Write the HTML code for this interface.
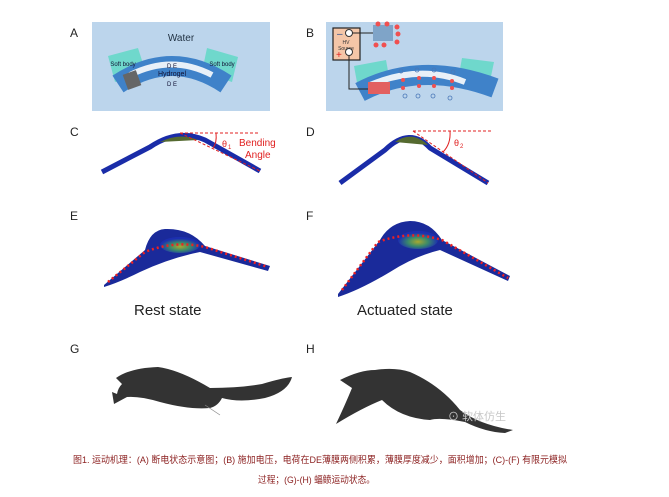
<!DOCTYPE html>
<html><head><meta charset="utf-8"><style>
html,body{margin:0;padding:0;background:#fff;}
svg{display:block;font-family:"Liberation Sans",Arial,sans-serif;}
.cap{font-family:"Liberation Sans","Noto Sans CJK SC",sans-serif;fill:#8b1f1f;font-size:9.5px;}
</style></head><body>
<svg width="669" height="497" viewBox="0 0 669 497" xmlns="http://www.w3.org/2000/svg">
<defs>
<radialGradient id="hg" cx="0.5" cy="0.6" r="0.5"><stop offset="0" stop-color="#a8a830"/><stop offset="0.5" stop-color="#3a8a6a"/><stop offset="1" stop-color="#1c2fb0"/></radialGradient>
</defs>
<g font-size="12" fill="#222">
<text x="70" y="37">A</text><text x="306" y="37">B</text>
<text x="70" y="136">C</text><text x="306" y="136">D</text>
<text x="70" y="220">E</text><text x="306" y="220">F</text>
<text x="70" y="353">G</text><text x="306" y="353">H</text>
</g>
<!-- Panel A -->
<rect x="92" y="22" width="178" height="89" fill="#bcd5ec"/>
<text x="181" y="41" font-size="10" fill="#234" text-anchor="middle">Water</text>
<polygon points="108,56 138,48 146,73 115,82" fill="#6fd8cc"/>
<polygon points="207,48 238,57 232,82 202,72" fill="#6fd8cc"/>
<path d="M118,84 Q172,48 226,84" fill="none" stroke="#3f82c9" stroke-width="20"/>
<path d="M130,75 Q172,54 212,75" fill="none" stroke="#e8f0f8" stroke-width="6"/>
<rect x="125" y="72" width="14" height="16" fill="#666" transform="rotate(-20 132 80)"/>
<g font-size="6" fill="#113" text-anchor="middle">
<text x="123" y="66">Soft body</text><text x="222" y="66">Soft body</text>
<text x="172" y="68">D E</text><text x="172" y="76" font-size="7">Hydrogel</text><text x="172" y="86">D E</text></g>
<!-- Panel B -->
<rect x="326" y="22" width="177" height="89" fill="#bcd5ec"/>
<polygon points="354,66 386,60 390,82 358,88" fill="#6fd8cc"/>
<polygon points="462,58 494,62 489,86 458,80" fill="#6fd8cc"/>
<path d="M360,92 Q420,60 495,88" fill="none" stroke="#3f82c9" stroke-width="20"/>
<path d="M370,85 Q420,64 465,82" fill="none" stroke="#e8f0f8" stroke-width="6"/>
<rect x="333" y="28" width="27" height="32" fill="#f4c6a8" stroke="#222" stroke-width="1.2"/>
<text x="346" y="44" font-size="5" text-anchor="middle" fill="#333">HV</text><text x="346" y="50" font-size="5" text-anchor="middle" fill="#333">Source</text>
<text x="337" y="37" font-size="10" fill="#2a4c8c">–</text><text x="336" y="58" font-size="10" fill="#e02020">+</text>
<circle cx="349" cy="33" r="3.5" fill="#fff" stroke="#333"/><circle cx="349" cy="52" r="3.5" fill="#fff" stroke="#333"/>
<polyline points="352,33 373,33" stroke="#222" fill="none"/>
<polyline points="349,56 349,89 370,89" stroke="#222" fill="none"/>
<rect x="373" y="25" width="20" height="16" fill="#7fa4c8"/>
<g fill="#f05050"><circle cx="378" cy="24" r="2.5"/><circle cx="387" cy="24" r="2.5"/><circle cx="397" cy="27" r="2.5"/><circle cx="398" cy="34" r="2.5"/><circle cx="397" cy="42" r="2.5"/><circle cx="384" cy="45" r="2.5"/><circle cx="376" cy="45" r="2.5"/>
<rect x="368" y="82" width="22" height="12" fill="#e26060"/>
<circle cx="403" cy="80" r="2"/><circle cx="419" cy="78" r="2"/><circle cx="434" cy="78" r="2"/><circle cx="452" cy="81" r="2"/><circle cx="403" cy="88" r="2"/><circle cx="419" cy="86" r="2"/><circle cx="434" cy="86" r="2"/><circle cx="452" cy="88" r="2"/></g>
<g fill="none" stroke="#4a78b8" stroke-width="0.8"><circle cx="401" cy="71" r="2"/><circle cx="417" cy="70" r="2"/><circle cx="434" cy="70" r="2"/><circle cx="453" cy="72" r="2"/><circle cx="405" cy="96" r="2"/><circle cx="418" cy="96" r="2"/><circle cx="433" cy="96" r="2"/><circle cx="450" cy="98" r="2"/></g>
<!-- C -->
<path d="M102,172 L150,147 Q178,128 205,140 L260,171" fill="none" stroke="#1a2ca8" stroke-width="5" stroke-linejoin="round"/>
<path d="M160,142 Q180,132 198,140 Z" fill="#556a30"/>
<line x1="180" y1="133" x2="260" y2="133" stroke="#e02020" stroke-dasharray="3,2"/>
<line x1="180" y1="133" x2="260" y2="171" stroke="#e02020" stroke-dasharray="3,2"/>
<path d="M216,133 Q217,143 213,148" fill="none" stroke="#e02020"/>
<text x="222" y="147" font-size="9" fill="#e02020">θ</text><text x="228" y="149" font-size="6" fill="#e02020">1</text>
<text x="239" y="146" font-size="10" fill="#e02020">Bending</text><text x="245" y="158" font-size="10" fill="#e02020">Angle</text>
<!-- D -->
<path d="M340,183 L385,150 Q410,126 430,148 L488,183" fill="none" stroke="#1a2ca8" stroke-width="5" stroke-linejoin="round"/>
<path d="M395,142 Q412,130 428,145 Z" fill="#556a30"/>
<line x1="413" y1="131" x2="492" y2="131" stroke="#e02020" stroke-dasharray="3,2"/>
<line x1="413" y1="131" x2="488" y2="183" stroke="#e02020" stroke-dasharray="3,2"/>
<path d="M450,131 Q451,144 443,152" fill="none" stroke="#e02020"/>
<text x="454" y="146" font-size="9" fill="#e02020">θ</text><text x="460" y="148" font-size="6" fill="#e02020">2</text>
<!-- E -->
<path d="M104,285 L145,250 Q150,230 165,229 Q190,228 205,246 L270,266 L268,271 L200,252 Q170,258 140,272 Q120,282 104,287 Z" fill="#1a2a9a"/>
<ellipse cx="180" cy="245" rx="20" ry="8" fill="url(#hg)"/>
<path d="M108,282 L145,252 Q175,240 205,247 L268,267" fill="none" stroke="#f02020" stroke-width="2.5" stroke-dasharray="2,3"/>
<!-- F -->
<path d="M338,294 L380,240 Q390,222 410,221 Q430,221 442,240 L510,276 L508,281 L440,250 Q415,256 390,272 Q360,290 338,297 Z" fill="#1a2a9a"/>
<ellipse cx="418" cy="240" rx="20" ry="9" fill="url(#hg)"/>
<path d="M342,290 L378,242 Q410,230 442,240 L508,278" fill="none" stroke="#f02020" stroke-width="2.5" stroke-dasharray="2,3"/>
<text x="134" y="315" font-size="15" fill="#222">Rest state</text>
<text x="357" y="315" font-size="15" fill="#222">Actuated state</text>
<!-- G -->
<path d="M112,392 L117,394 Q118,388 122,384 L116,378 Q130,368 158,367 Q180,370 210,388 Q240,388 262,384 Q282,378 292,377 Q288,392 265,398 Q240,403 222,398 Q218,406 210,408 Q190,410 160,402 Q140,396 127,397 L114,404 Z" fill="#333"/>
<line x1="205" y1="405" x2="220" y2="415" stroke="#888" stroke-width="0.7"/>
<!-- H -->
<path d="M336,424 Q345,405 352,388 L340,380 Q360,370 375,370 Q395,367 410,372 Q440,385 460,410 Q480,425 513,430 L505,433 Q485,432 465,422 Q440,417 430,420 Q400,418 382,400 Q362,408 336,424 Z" fill="#333"/>
<text x="448" y="420" font-size="11" fill="#c8c8c8" font-family="Liberation Sans,Noto Sans CJK SC,sans-serif">⊙ 软体仿生</text>
<!-- caption -->
<text x="73" y="463" class="cap" textLength="494" lengthAdjust="spacingAndGlyphs">图1. 运动机理：(A) 断电状态示意图；(B) 施加电压，电荷在DE薄膜两侧积累，薄膜厚度减少，面积增加；(C)-(F) 有限元模拟</text>
<text x="258" y="483" class="cap" textLength="117" lengthAdjust="spacingAndGlyphs">过程；(G)-(H) 蝠鲼运动状态。</text>
</svg>
</body></html>
